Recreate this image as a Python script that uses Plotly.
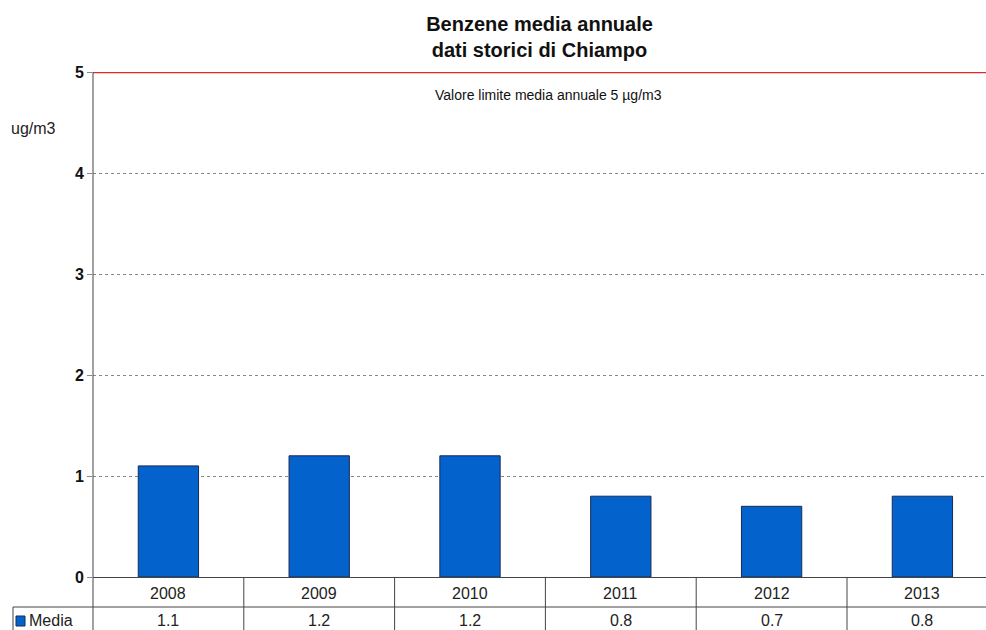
import plotly.graph_objects as go

# Annual mean benzene concentration, Chiampo monitoring site
years = ["2008", "2009", "2010", "2011", "2012", "2013"]
media = [1.1, 1.2, 1.2, 0.8, 0.7, 0.8]
limit_value = 5
y_ticks = [0, 1, 2, 3, 4, 5]

FONT = "Arial, Liberation Sans, sans-serif"
BAR_FILL = "#0362cc"
BAR_EDGE = "#1b2a55"
GRID = "#888888"
TABLE_LINE = "#444444"

W, H = 986, 630
M_L, M_R, M_T, M_B = 93, 0, 72, 53
plot_w = W - M_L - M_R
plot_h = H - M_T - M_B

# the category band is ~150.8 px wide; the last column runs past the right edge
band_px = 150.8
x_max = -0.5 + plot_w / band_px


def px_to_xpaper(px):
    return (px - M_L) / plot_w


def px_to_ypaper(py):
    return (H - M_B - py) / plot_h


def text_at(x, y, text, size=16, xref="paper", xanchor="center", color="#222"):
    return dict(xref=xref, yref="paper", x=x, y=y, text=text, showarrow=False,
                xanchor=xanchor, yanchor="middle",
                font=dict(family=FONT, size=size, color=color))


fig = go.Figure()
fig.add_trace(go.Bar(
    x=list(range(len(years))),
    y=media,
    width=0.4,
    marker=dict(color=BAR_FILL, line=dict(color=BAR_EDGE, width=1)),
    name="Media",
    showlegend=False,
    hoverinfo="skip",
))

# limit line at the annual limit value
fig.add_trace(go.Scatter(
    x=[-0.5, x_max], y=[limit_value, limit_value],
    mode="lines", line=dict(color="#e02a28", width=2.5),
    cliponaxis=False, showlegend=False, hoverinfo="skip",
))

shapes = []
annotations = []

annotations.append(text_at(px_to_xpaper(548), px_to_ypaper(95),
                           f"Valore limite media annuale {limit_value} µg/m3",
                           size=14, color="#111"))

# unit label
annotations.append(text_at(px_to_xpaper(33), px_to_ypaper(128), "ug/m3"))

# data table under the axis
y_bottom = px_to_ypaper(H + 2)
y_row = px_to_ypaper(607)
# left axis line extended through the table
shapes.append(dict(type="line", xref="paper", yref="paper", x0=0, x1=0,
                   y0=1, y1=y_bottom, line=dict(color=TABLE_LINE, width=1)))
# column separators
for i in range(len(years)):
    xb = i + 0.5
    if xb < x_max:
        shapes.append(dict(type="line", xref="x", yref="paper", x0=xb, x1=xb,
                           y0=0, y1=y_bottom, line=dict(color=TABLE_LINE, width=1)))
# row separator
shapes.append(dict(type="line", xref="paper", yref="paper",
                   x0=px_to_xpaper(13), x1=1, y0=y_row, y1=y_row,
                   line=dict(color=TABLE_LINE, width=1)))
# legend cell border
shapes.append(dict(type="line", xref="paper", yref="paper",
                   x0=px_to_xpaper(13), x1=px_to_xpaper(13), y0=y_row, y1=y_bottom,
                   line=dict(color=TABLE_LINE, width=1)))
# legend swatch
shapes.append(dict(type="rect", xref="paper", yref="paper",
                   x0=px_to_xpaper(16), x1=px_to_xpaper(25),
                   y0=px_to_ypaper(626), y1=px_to_ypaper(616),
                   fillcolor=BAR_FILL, line=dict(color=BAR_EDGE, width=1)))
annotations.append(text_at(px_to_xpaper(27), px_to_ypaper(620), "Media", xanchor="left"))

for i, (yr, v) in enumerate(zip(years, media)):
    annotations.append(text_at(i, px_to_ypaper(593), yr, xref="x"))
    annotations.append(text_at(i, px_to_ypaper(620), f"{v:.1f}", xref="x"))

fig.update_layout(
    width=W, height=H,
    margin=dict(l=M_L, r=M_R, t=M_T, b=M_B, pad=0),
    paper_bgcolor="white", plot_bgcolor="white",
    title=dict(text="<b>Benzene media annuale<br>dati storici di Chiampo</b>",
               x=0.5, xref="paper", xanchor="center", y=1 - 31 / H, yanchor="middle",
               font=dict(family=FONT, size=20, color="#111")),
    shapes=shapes,
    annotations=annotations,
)

fig.update_xaxes(range=[-0.5, x_max], showticklabels=False, ticks="",
                 showgrid=False, zeroline=False,
                 showline=True, linecolor=TABLE_LINE, linewidth=1)
fig.update_yaxes(range=[0, limit_value], tickvals=y_ticks,
                 ticks="outside", ticklen=5, tickcolor=GRID,
                 tickfont=dict(family=FONT, size=16, color="#111", weight="bold"),
                 showgrid=True, gridcolor=GRID, griddash="dot", gridwidth=1,
                 zeroline=False, showline=False)

fig.write_html("out.html")
